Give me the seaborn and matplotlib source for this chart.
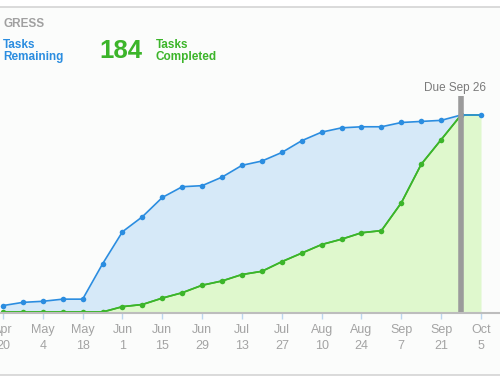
import matplotlib
matplotlib.use("Agg")
import matplotlib.pyplot as plt
import matplotlib.dates as mdates
from matplotlib.lines import Line2D
import pandas as pd
import seaborn as sns

# weekly snapshots, Apr 20 .. Oct 5
week_dates = pd.date_range("2015-04-20", "2015-10-05", freq="7D")
total_tasks = [6, 9, 10, 12, 12, 45, 75, 89, 107, 117, 118, 126, 137,
               141, 149, 160, 168, 172, 173, 173, 177, 178, 179, 184, 184]
completed_tasks = [0, 0, 0, 0, 0, 0, 5, 7, 13, 18, 25, 29, 35,
                   38, 47, 55, 63, 68, 74, 76, 102, 138, 161, 184, 184]
due_date = pd.Timestamp("2015-09-28")
due_label = "Due Sep 26"
tasks_completed = 184

BLUE = "#2b8de0"
BLUE_FILL = "#d6e9f8"
GREEN = "#3cb52a"
GREEN_FILL = "#dff8cd"
GRAY_TXT = "#a3a3a3"
PANEL = "#fbfcfb"

df = pd.DataFrame({"date": week_dates, "total": total_tasks, "done": completed_tasks})

sns.set_style("white")
plt.rcParams["font.family"] = ["Liberation Sans", "DejaVu Sans"]

fig = plt.figure(figsize=(5, 3.83), dpi=100)
fig.patch.set_facecolor("white")

# panel background + borders
panel_top = 1 - 7 / 383
panel_bot = 8 / 383
fig.add_artist(plt.Rectangle((0, panel_bot), 1, panel_top - panel_bot,
                             transform=fig.transFigure, facecolor=PANEL,
                             edgecolor="none", zorder=-5))
for yy in (panel_top, panel_bot):
    fig.add_artist(Line2D([0, 1], [yy, yy], transform=fig.transFigure,
                          color="#d4d4d4", lw=1.2))

ax = fig.add_axes([0, (383 - 313) / 383, 1, (313 - 96) / 383])
ax.set_facecolor("none")

ax.fill_between(df["date"], df["done"], df["total"], color=BLUE_FILL, lw=0, zorder=1)
ax.fill_between(df["date"], 0, df["done"], color=GREEN_FILL, lw=0, zorder=1)

sns.lineplot(data=df.iloc[:-1], x="date", y="done", color=GREEN, lw=1.2,
             marker="o", markersize=4, markeredgewidth=0, ax=ax, zorder=3)
sns.lineplot(data=df, x="date", y="done", color=GREEN, lw=1.2, ax=ax, zorder=3)
sns.lineplot(data=df, x="date", y="total", color=BLUE, lw=1.2,
             marker="o", markersize=4, markeredgewidth=0, ax=ax, zorder=4)

# due date marker
ax.axvline(due_date, color="#9b9b9b", lw=4, zorder=5)
ax.annotate(due_label, xy=(due_date, 1.0), xycoords=("data", "axes fraction"),
            xytext=(-6, 8), textcoords="offset pixels", ha="center", va="center",
            fontsize=8.5, color="#7a7a7a")

# scales: Apr 20 at px 3, Oct 5 at px 481
px_day = 478 / 168
ax.set_xlim(week_dates[0] - pd.Timedelta(days=3 / px_day),
            week_dates[-1] + pd.Timedelta(days=19 / px_day))
ax.set_ylim(-1 / 1.0707, 184 + 19 / 1.0707)

ax.set_xticks(week_dates[::2])
ax.xaxis.set_major_formatter(mdates.DateFormatter("%b\n%-d"))
ax.tick_params(axis="x", length=4, width=1, color="#bcd6ee", pad=4,
               labelsize=9, labelcolor=GRAY_TXT, bottom=True)
for lbl in ax.get_xticklabels():
    lbl.set_linespacing(1.45)
ax.set_yticks([])
ax.set_xlabel("")
ax.set_ylabel("")
sns.despine(ax=ax, left=True, top=True, right=True)
ax.spines["bottom"].set_color("#bdbdbd")
ax.spines["bottom"].set_linewidth(1.5)
ax.spines["bottom"].set_zorder(6)

# header
def fy(py):
    return 1 - py / 383

fig.text(3 / 500, fy(24), "GRESS", fontsize=8.5, fontweight="bold",
         color="#a0a0a0", va="center", ha="left")
fig.text(3 / 500, fy(51), "Tasks\nRemaining", fontsize=8.5, fontweight="bold",
         color=BLUE, va="center", ha="left", linespacing=1.0)
fig.text(99 / 500, fy(51), str(tasks_completed), fontsize=18.5, fontweight="bold",
         color=GREEN, va="center", ha="left")
fig.text(156 / 500, fy(51), "Tasks\nCompleted", fontsize=8.5, fontweight="bold",
         color=GREEN, va="center", ha="left", linespacing=1.0)

fig.savefig("out.png", dpi=100, facecolor=fig.get_facecolor())
